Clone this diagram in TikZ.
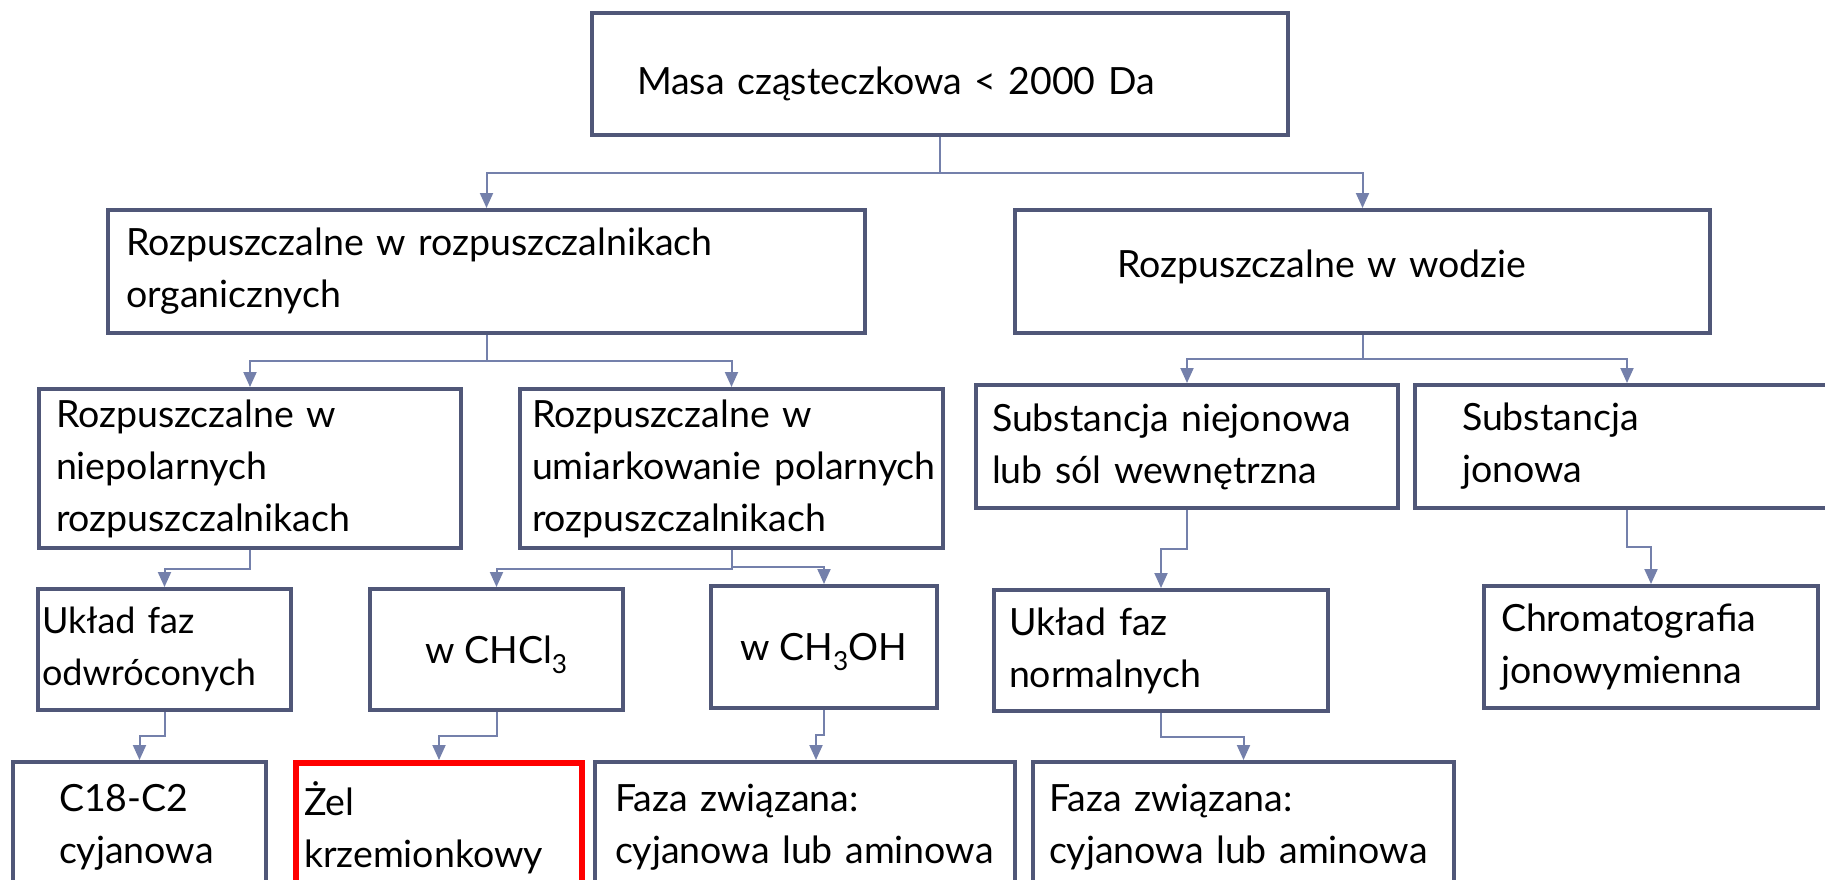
\documentclass[tikz,border=0pt]{standalone}
\usepackage{fontspec}
\setmainfont{Lato}
\usetikzlibrary{arrows.meta,calc}

\definecolor{boxline}{RGB}{80,87,120}
\definecolor{linkline}{RGB}{116,128,171}
\definecolor{markred}{RGB}{255,0,0}

\hyphenpenalty=10000
\exhyphenpenalty=10000

\tikzset{
  box/.style={draw=boxline,line width=4pt,rectangle,anchor=north west,
    align=left,inner ysep=0pt,font=\fontsize{37.5}{52}\selectfont},
  hot/.style={box,draw=markred,line width=6pt},
  oneline/.style={text height=#1,text depth=0pt},
  link/.style={draw=linkline,line width=2pt,-{Triangle[length=15pt,width=13pt]},
    to path={|- ($(\tikztostart)!0.5!(\tikztotarget)$) -| (\tikztotarget)}}
}

\begin{document}
\begin{tikzpicture}[x=1pt,y=-1pt]
  \clip (0,0) rectangle (1825,879);
  \fill[white] (0,0) rectangle (1825,879);

  \node at (590,11) [box,oneline=40pt,minimum width=696pt,minimum height=122pt,inner xsep=45pt,text width=606pt] (mass) {Masa cząsteczkowa < 2000 Da};

  \node at (106,208) [box,minimum width=757pt,minimum height=123pt,inner xsep=18pt,text width=721pt] (organic) {Rozpuszczalne w rozpuszczalnikach\\organicznych};
  \node at (1013,208) [box,text height=27pt,text depth=16pt,minimum width=695pt,minimum height=123pt,inner xsep=102pt,text width=491pt] (water) {Rozpuszczalne w wodzie};

  \node at (37,387) [box,minimum width=422pt,minimum height=159pt,inner xsep=17pt,text width=388pt] (nonpolar) {Rozpuszczalne w\\niepolarnych\\rozpuszczalnikach};
  \node at (518,387) [box,minimum width=423pt,minimum height=159pt,inner xsep=12pt,text width=399pt] (midpolar) {Rozpuszczalne w\\\mbox{umiarkowanie polarnych}\\rozpuszczalnikach};
  \node at (974,383) [box,minimum width=422pt,minimum height=123pt,inner xsep=16pt,text width=390pt] (nonionic) {Substancja~niejonowa\\lub sól wewnętrzna};
  \node at (1413,383) [box,minimum width=424pt,minimum height=123pt,inner xsep=47pt,text width=330pt] (ionic) {Substancja\\jonowa};

  \node at (36,587) [box,font=\fontsize{36}{52}\selectfont,minimum width=253pt,minimum height=121pt,inner xsep=4pt,text width=245pt] (reversed) {Układ~faz\\odwróconych};
  \node at (368,587) [box,oneline=27pt,minimum width=253pt,minimum height=121pt,align=center] (chcl) {w CHCl\textsubscript{3}};
  \node at (709,584) [box,oneline=27pt,minimum width=226pt,minimum height=122pt,align=center] (meoh) {w CH\textsubscript{3}OH};
  \node at (992,588) [box,minimum width=334pt,minimum height=121pt,inner xsep=15pt,text width=304pt] (normal) {Układ faz\\normalnych};
  \node at (1482,584) [box,minimum width=334pt,minimum height=122pt,inner xsep=17pt,text width=300pt] (ionex) {Chromatografia\\jonowymienna};

  \node at (11,760) [box,minimum width=253pt,minimum height=130pt,inner xsep=46pt,text width=161pt] (c18) {C18-C2\\cyjanowa};
  \node at (293,760) [hot,minimum width=286pt,minimum height=130pt,inner xsep=8pt,text width=270pt] (gel) {Żel\\krzemionkowy};
  \node at (593,760) [box,minimum width=420pt,minimum height=130pt,inner xsep=20pt,text width=380pt] (bonded) {Faza związana:\\\mbox{cyjanowa lub aminowa}};
  \node at (1031,760) [box,minimum width=421pt,minimum height=130pt,inner xsep=16pt,text width=389pt] (bondedb) {Faza związana:\\\mbox{cyjanowa lub aminowa}};

  \draw[link] (mass.south) to (organic.north);
  \draw[link] (mass.south) to (water.north);
  \draw[link] (organic.south) to (nonpolar.north);
  \draw[link] (organic.south) to (midpolar.north);
  \draw[link] (water.south) to (nonionic.north);
  \draw[link] (water.south) to (ionic.north);
  \draw[link] (nonpolar.south) to (reversed.north);
  \draw[link] (midpolar.south) to (chcl.north);
  \draw[link] (midpolar.south) to (meoh.north);
  \draw[link] (nonionic.south) to (normal.north);
  \draw[link] (ionic.south) to (ionex.north);
  \draw[link] (reversed.south) to (c18.north);
  \draw[link] (chcl.south) to (gel.north);
  \draw[link] (meoh.south) to ([xshift=11pt]bonded.north);
  \draw[link] (normal.south) to (bondedb.north);
\end{tikzpicture}
\end{document}
